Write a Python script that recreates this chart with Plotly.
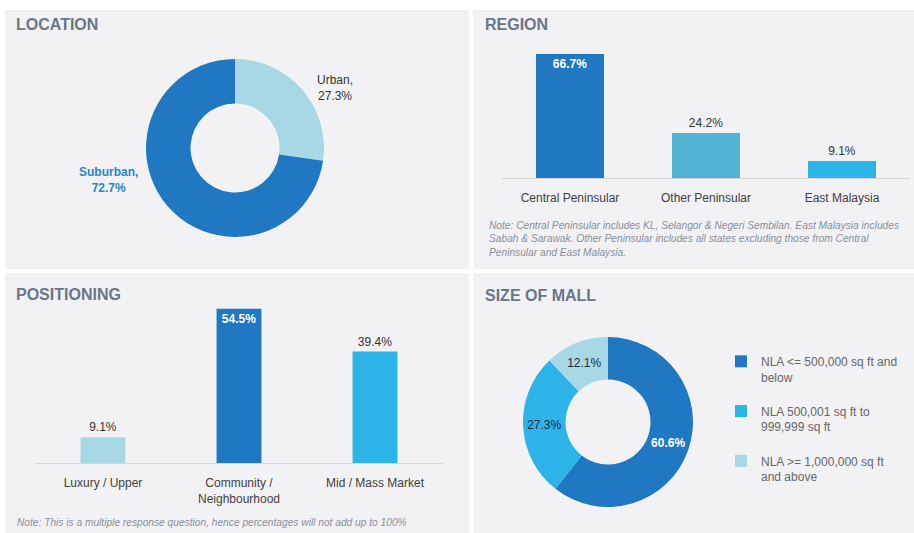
import plotly.graph_objects as go

W, H = 914, 533

# ---- data ----
loc_labels = ["Urban", "Suburban"]
loc_values = [27.3, 72.7]

region_cats = ["Central Peninsular", "Other Peninsular", "East Malaysia"]
region_vals = [66.7, 24.2, 9.1]

pos_cats = ["Luxury / Upper", "Community /<br>Neighbourhood", "Mid / Mass Market"]
pos_vals = [9.1, 54.5, 39.4]

size_labels = ["NLA <= 500,000 sq ft and<br>below<br> ",
               "NLA 500,001 sq ft to<br>999,999 sq ft<br> ",
               "NLA >= 1,000,000 sq ft<br>and above<br> "]
size_vals = [60.6, 27.3, 12.1]

# ---- styles ----
DARK = "#1f78c1"
LIGHT = "#a8d8e6"
BRIGHT = "#2cb4e8"
TEAL = "#52b4d4"
PANEL = "#f2f2f5"
TITLE_C = "#6b7686"
NOTE_C = "#8a8f99"
TXT = "#404040"
FONT = "Liberation Sans, Arial, sans-serif"
NOTE_FONT = "Liberation Sans, Arial, sans-serif"


def fx(px):
    return px / W


def fy(py):
    return 1 - py / H


fig = go.Figure()

# Location donut
fig.add_trace(go.Pie(
    labels=loc_labels, values=loc_values, hole=0.5, sort=False,
    direction="clockwise", rotation=0,
    marker=dict(colors=[LIGHT, DARK], line=dict(width=0)),
    textinfo="none", showlegend=False, hoverinfo="label+value",
    domain=dict(x=[fx(146), fx(324)], y=[fy(237), fy(59)]),
))

# Size of mall donut
size_text = [("<b>%.1f%%</b>" % v) if i == 0 else ("%.1f%%" % v) for i, v in enumerate(size_vals)]
fig.add_trace(go.Pie(
    labels=size_labels, values=size_vals, hole=0.5, sort=False,
    direction="clockwise", rotation=0,
    marker=dict(colors=[DARK, BRIGHT, LIGHT], line=dict(width=0)),
    text=size_text, textinfo="text", textposition="inside",
    insidetextorientation="horizontal",
    insidetextfont=dict(family=FONT, size=12, color=["#ffffff", "#1a2a3a", "#1a2a3a"]),
    showlegend=True, legend="legend",
    domain=dict(x=[fx(523), fx(693)], y=[fy(507), fy(337)]),
))

# Region bars
reg_text = ["%.1f%%" % v for v in region_vals]
fig.add_trace(go.Bar(
    x=region_cats, y=region_vals, xaxis="x", yaxis="y",
    marker=dict(color=[DARK, TEAL, BRIGHT], line=dict(width=0)),
    text=reg_text, textposition=["inside", "outside", "outside"],
    insidetextanchor="end",
    insidetextfont=dict(family=FONT, size=12, color="#ffffff", weight="bold"),
    outsidetextfont=dict(family=FONT, size=12, color="#333333"),
    cliponaxis=False, showlegend=False, width=0.5,
))

# Positioning bars
pos_text = ["%.1f%%" % v for v in pos_vals]
fig.add_trace(go.Bar(
    x=pos_cats, y=pos_vals, xaxis="x2", yaxis="y2",
    marker=dict(color=[LIGHT, DARK, BRIGHT], line=dict(width=0)),
    text=pos_text, textposition=["outside", "inside", "outside"],
    insidetextanchor="end",
    insidetextfont=dict(family=FONT, size=12, color="#ffffff", weight="bold"),
    outsidetextfont=dict(family=FONT, size=12, color="#333333"),
    cliponaxis=False, showlegend=False, width=0.33,
))

axis_common = dict(showgrid=False, zeroline=False, showline=True, linecolor="#d6d6d9",
                   linewidth=1, ticks="", tickfont=dict(family=FONT, size=12, color=TXT),
                   ticklabelstandoff=9, fixedrange=True)
yaxis_common = dict(visible=False, showgrid=False, zeroline=False, fixedrange=True)

panels = [(5, 10, 469, 269), (473, 10, 914, 269), (5, 273, 469, 533), (473, 273, 914, 533)]
shapes = [dict(type="rect", xref="paper", yref="paper", x0=fx(a), x1=fx(c), y0=fy(d), y1=fy(b),
               fillcolor=PANEL, line=dict(width=0), layer="below") for a, b, c, d in panels]

titles = [("LOCATION", 14, 25), ("REGION", 483, 25), ("POSITIONING", 14, 294), ("SIZE OF MALL", 483, 295)]
annotations = [dict(text="<b>%s</b>" % t, x=fx(x), y=fy(y), xref="paper", yref="paper",
                    xanchor="left", yanchor="middle", showarrow=False,
                    font=dict(family=FONT, size=16, color=TITLE_C)) for t, x, y in titles]

# Location labels
annotations.append(dict(text="%s,<br>%.1f%%" % (loc_labels[0], loc_values[0]), x=fx(335), y=fy(88),
                        xref="paper", yref="paper", xanchor="center", yanchor="middle",
                        showarrow=False, align="center",
                        font=dict(family=FONT, size=12, color="#333333")))
annotations.append(dict(text="<b>%s,<br>%.1f%%</b>" % (loc_labels[1], loc_values[1]), x=fx(108), y=fy(180),
                        xref="paper", yref="paper", xanchor="center", yanchor="middle",
                        showarrow=False, align="center",
                        font=dict(family=FONT, size=12, color="#2a86c9")))

# Notes
annotations.append(dict(
    text="<i>Note: Central Peninsular includes KL, Selangor &amp; Negeri Sembilan. East Malaysia includes<br>"
         "Sabah &amp; Sarawak. Other Peninsular includes all states excluding those from Central<br>"
         "Peninsular and East Malaysia.</i>",
    x=fx(487), y=fy(218), xref="paper", yref="paper", xanchor="left", yanchor="top",
    align="left", showarrow=False, font=dict(family=NOTE_FONT, size=10.2, color=NOTE_C)))
annotations.append(dict(
    text="<i>Note: This is a multiple response question, hence percentages will not add up to 100%</i>",
    x=fx(15), y=fy(522), xref="paper", yref="paper", xanchor="left", yanchor="middle",
    align="left", showarrow=False, font=dict(family=NOTE_FONT, size=10.2, color=NOTE_C)))

fig.update_layout(
    width=W, height=H, autosize=False,
    margin=dict(l=0, r=0, t=0, b=0, pad=0),
    paper_bgcolor="#ffffff", plot_bgcolor="rgba(0,0,0,0)",
    font=dict(family=FONT, size=12, color=TXT),
    bargap=0.5,
    xaxis=dict(domain=[fx(502), fx(910)], anchor="y", **axis_common),
    yaxis=dict(domain=[fy(178), fy(48)], range=[0, 130 / 1.859], anchor="x", **yaxis_common),
    xaxis2=dict(domain=[fx(35), fx(443)], anchor="y2", **axis_common),
    yaxis2=dict(domain=[fy(463), fy(300)], range=[0, 163 / 2.83], anchor="x2", **yaxis_common),
    legend=dict(x=fx(721), y=fy(347), xanchor="left", yanchor="top",
                bgcolor="rgba(0,0,0,0)", valign="top",
                font=dict(family=FONT, size=12, color="#666666"),
                itemclick=False, itemdoubleclick=False),
    shapes=shapes, annotations=annotations,
)

fig.write_html("out.html", config={"displayModeBar": False})
